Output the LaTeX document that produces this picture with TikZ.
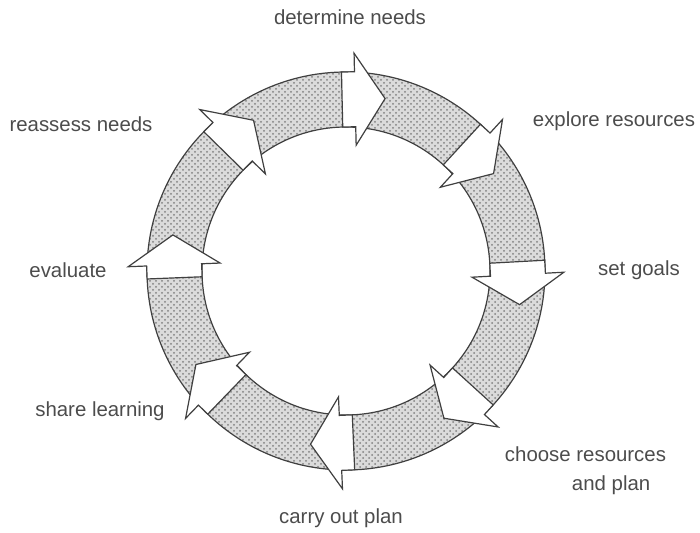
\documentclass[tikz,border=0pt]{standalone}
\usepackage{fontspec}
\setmainfont{Liberation Sans}
\usetikzlibrary{patterns}

\begin{document}
\begin{tikzpicture}[x=0.5pt,y=0.5pt,line width=0.6pt,
    lbl/.style={text=black!70,font=\fontsize{10.2}{14.5}\selectfont,inner sep=0pt}]
    \useasboundingbox (-346,-262) rectangle (354,271);
    % the ring
    \fill[gray!28,even odd rule] (0,0) circle (199) (0,0) circle (144);
    \fill[pattern=crosshatch dots,pattern color=gray,even odd rule] (0,0) circle (199) (0,0) circle (144);
    \draw[black!75] (0,0) circle (199);
    \draw[black!75] (0,0) circle (144);
    % the eight arrows, clockwise
    \foreach \a in {91.3,47.5,3.1,-42.3,-87.5,-134,-177.7,135.6}
        \filldraw[fill=white,draw=black!75,rotate=\a]
        (144,0)--(144,-13)--(125.5,-13)--(171.5,-43)--(217.5,-13)--(199,-13)--(199,0)--cycle;
    % labels
    \node[lbl] (determine) at (4,254) {determine needs};
    \node[lbl] (explore) at (268,150) {explore resources};
    \node[lbl] (goals) at (293,1) {set goals};
    \node[lbl,align=left] (choose) at (239.5,-199.5) {choose resources\\\hspace*{33.5pt}and plan};
    \node[lbl] (carry) at (-5,-247) {carry out plan};
    \node[lbl] (share) at (-246,-140) {share learning};
    \node[lbl] (evaluate) at (-278,1) {evaluate};
    \node[lbl] (reassess) at (-265,147) {reassess needs};
\end{tikzpicture}
\end{document}
